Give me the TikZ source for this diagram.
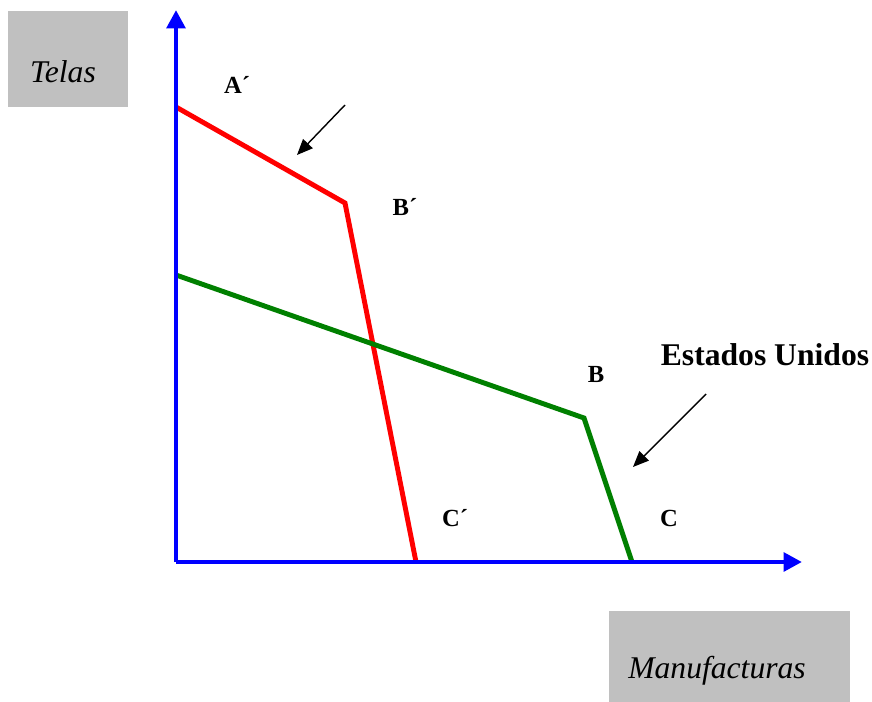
\documentclass[tikz,border=0pt]{standalone}
\usepackage{fontspec}
\setmainfont{Liberation Serif}
\usetikzlibrary{arrows.meta}
\definecolor{axisblue}{HTML}{0000FF}
\definecolor{curvegreen}{HTML}{008000}
\definecolor{boxgray}{HTML}{C0C0C0}

\begin{document}
\begin{tikzpicture}[
    x=0.02cm, y=-0.02cm,
    axis/.style={line width=2.8pt, color=axisblue, -{Triangle[length=10.5pt, width=10.5pt]}},
    curve/.style={line width=2.8pt, line join=miter},
    pointer/.style={line width=0.8pt, -{Triangle[length=9pt, width=7.5pt]}},
    gbox/.style={fill=boxgray, draw=none},
    lbl/.style={font=\fontsize{14}{16}\selectfont\bfseries},
    axtitle/.style={font=\fontsize{18}{21}\selectfont\itshape}
]
\useasboundingbox (0,0) rectangle (872,702);

% gray label boxes
\fill[gbox] (8,11) rectangle (128,107);
\fill[gbox] (609,611) rectangle (850,702);
\node[axtitle] (telas) at (63,72) {Telas};
\node[axtitle] (manuf) at (717,671) {Manufacturas};

\coordinate (O) at (176,562);
\coordinate (ytop) at (176,10);
\coordinate (xend) at (802,562);

% curves
\coordinate (A1) at (176,107);
\coordinate (B1) at (345,203);
\coordinate (C1) at (416,562);
\coordinate (A) at (176,275);
\coordinate (B) at (584,418);
\coordinate (C) at (632,562);
\draw[curve, red] (A1) -- (B1) -- (C1);
\draw[curve, curvegreen] (A) -- (B) -- (C);

\draw[axis] (O) -- (ytop);
\draw[axis] (O) -- (xend);

\node[lbl] (la1) at (237,85) {A´};
\node[lbl] (lb1) at (405,207) {B´};
\node[lbl] (lc1) at (455,518) {C´};
\node[lbl] (lb) at (596,374) {B};
\node[lbl] (lc) at (669,518) {C};
\node[font=\fontsize{18}{21}\selectfont\bfseries] (usa) at (765,355) {Estados Unidos};

\coordinate (p1s) at (345,105);
\coordinate (p1e) at (297,155);
\coordinate (p2s) at (706,394);
\coordinate (p2e) at (633,467);
\draw[pointer] (p1s) -- (p1e);
\draw[pointer] (p2s) -- (p2e);
\end{tikzpicture}
\end{document}
